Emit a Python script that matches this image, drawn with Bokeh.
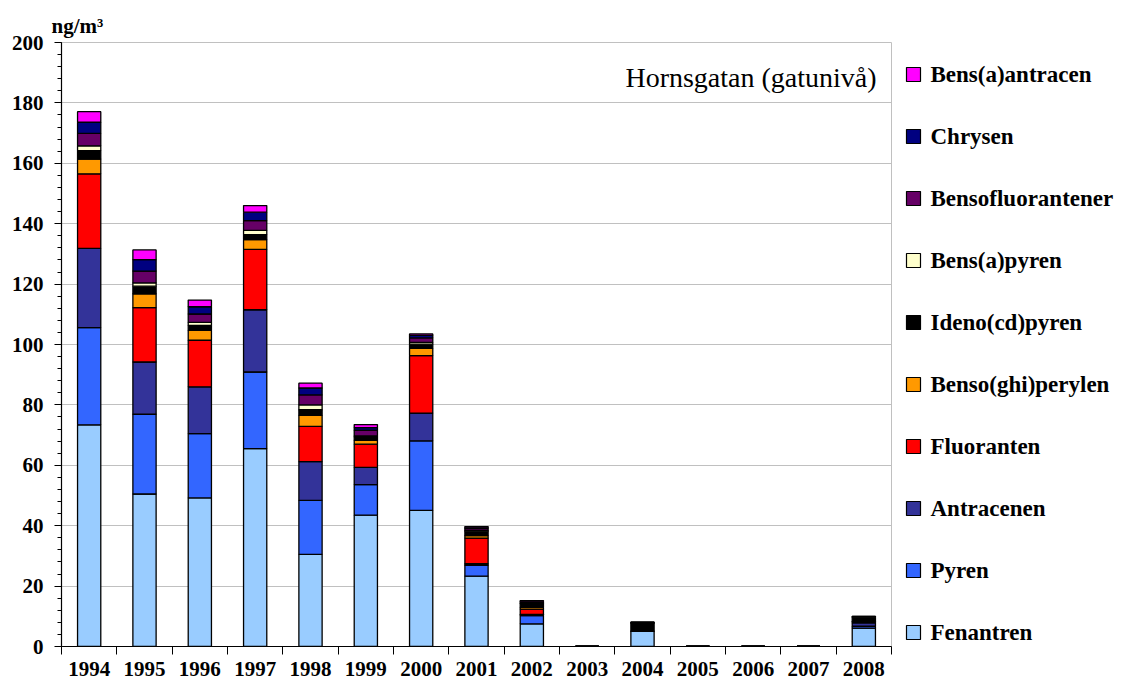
from bokeh.plotting import figure
from bokeh.layouts import row
from bokeh.models import ColumnDataSource, FixedTicker, Label, Range1d, Title
from bokeh.core.properties import value
from bokeh.embed import file_html
from bokeh.resources import INLINE

years = ["1994", "1995", "1996", "1997", "1998", "1999", "2000", "2001",
         "2002", "2003", "2004", "2005", "2006", "2007", "2008"]

fenantren = [73.4, 50.5, 49.2, 65.5, 30.5, 43.5, 45.1, 23.3, 7.5, 0, 5.0, 0, 0, 0, 6.1]
pyren = [32.2, 26.4, 21.3, 25.4, 17.9, 10.1, 23.0, 3.6, 2.7, 0, 0, 0, 0, 0, 0.6]
antracenen = [26.2, 17.3, 15.5, 20.6, 12.8, 5.7, 9.2, 0.5, 0.4, 0, 0, 0, 0, 0, 1.1]
fluoranten = [24.7, 18.0, 15.4, 20.0, 11.7, 7.7, 19.0, 8.5, 1.8, 0, 0, 0, 0, 0, 0.4]
benso_ghi_perylen = [4.9, 4.6, 3.3, 3.2, 3.6, 1.3, 2.4, 0.8, 0.6, 0, 0.1, 0, 0, 0, 0.1]
ideno_cd_pyren = [2.8, 2.5, 1.6, 1.7, 1.9, 1.1, 1.4, 1.5, 1.2, 0, 2.6, 0, 0, 0, 1.4]
bens_a_pyren = [1.6, 1.1, 1.0, 1.4, 1.6, 0.3, 0.6, 0.2, 0.1, 0, 0.1, 0, 0, 0, 0.1]
bensofluorantener = [4.1, 3.9, 2.8, 3.2, 3.3, 1.9, 1.5, 0.6, 0.4, 0, 0.2, 0, 0, 0, 0.1]
chrysen = [3.7, 3.8, 2.4, 2.8, 2.3, 0.9, 0.8, 0.5, 0.3, 0, 0.1, 0, 0, 0, 0.1]
bens_a_antracen = [3.5, 3.2, 2.2, 2.2, 1.6, 1.0, 0.5, 0.2, 0.2, 0, 0, 0, 0, 0, 0.0]

series_names = ["Fenantren", "Pyren", "Antracenen", "Fluoranten", "Benso(ghi)perylen",
                "Ideno(cd)pyren", "Bens(a)pyren", "Bensofluorantener", "Chrysen",
                "Bens(a)antracen"]
series_values = [fenantren, pyren, antracenen, fluoranten, benso_ghi_perylen,
                 ideno_cd_pyren, bens_a_pyren, bensofluorantener, chrysen, bens_a_antracen]
colors = ["#99CCFF", "#3366FF", "#333399", "#FF0000", "#FF9900",
          "#000000", "#FFFFCC", "#660066", "#000080", "#FF00FF"]

keys = ["s%d" % i for i in range(len(series_names))]
data = {"x": list(range(len(years)))}
for k, v in zip(keys, series_values):
    data[k] = v
source = ColumnDataSource(data)

SERIF = "Liberation Serif"
H = 681
TOP, BOTTOM = 42, 35

p = figure(width=893, height=H, output_backend="svg", toolbar_location=None,
           x_range=Range1d(-0.5, len(years) - 0.5), y_range=Range1d(0, 200),
           min_border_left=61, min_border_right=2, min_border_top=TOP, min_border_bottom=BOTTOM)
p.background_fill_color = "white"
p.border_fill_color = "white"
p.outline_line_color = "#c0c0c0"

p.title = Title(text="ng/m³", align="left", offset=-10, text_font=SERIF,
                text_font_style="bold", text_font_size="21px", text_color="black",
                standoff=9)

renderers = p.vbar_stack(keys, x="x", width=0.42, color=colors, line_color="black",
                         line_width=1.3, source=source)

# axes
p.xaxis.ticker = FixedTicker(ticks=list(range(len(years))),
                             minor_ticks=[i - 0.5 for i in range(len(years) + 1)])
p.xaxis.major_label_overrides = {i: y for i, y in enumerate(years)}
p.xaxis.major_tick_out = 0
p.xaxis.major_tick_in = 0
p.xaxis.minor_tick_out = 8
p.xaxis.minor_tick_in = 0
p.xaxis.major_label_standoff = 7

p.yaxis.ticker = FixedTicker(ticks=list(range(0, 201, 20)), minor_ticks=list(range(0, 201, 4)))
p.yaxis.major_tick_out = 7
p.yaxis.major_tick_in = 0
p.yaxis.minor_tick_out = 4
p.yaxis.minor_tick_in = 0
p.yaxis.major_label_standoff = 11

for ax in (p.xaxis, p.yaxis):
    ax.axis_line_color = "black"
    ax.axis_line_width = 1.2
    ax.major_tick_line_color = "black"
    ax.minor_tick_line_color = "black"
    ax.major_label_text_font = SERIF
    ax.major_label_text_font_style = "bold"
    ax.major_label_text_font_size = "21px"
    ax.major_label_text_color = "black"

p.xgrid.grid_line_color = None
p.ygrid.grid_line_color = "#c0c0c0"
p.ygrid.grid_line_width = 1

title = Label(x=14.23, y=188.4, text="Hornsgatan (gatunivå)", text_font=SERIF,
              text_font_size="28px", text_align="right", text_baseline="middle",
              text_color="black")
p.add_layout(title)

# legend panel (top entry = top of the stack); its frame is aligned with the
# main frame, so its y range is set so that one unit equals one pixel
LW = 1115 - 893
leg = figure(width=LW, height=H, output_backend="svg", toolbar_location=None,
             x_range=Range1d(0, LW), y_range=Range1d(H - BOTTOM, TOP),
             x_axis_type=None, y_axis_type=None,
             min_border_left=0, min_border_right=0, min_border_top=TOP, min_border_bottom=BOTTOM)
leg.grid.grid_line_color = None
leg.outline_line_color = None
leg.background_fill_color = "white"
leg.border_fill_color = "white"

n = len(series_names)
leg_src = ColumnDataSource(dict(
    name=series_names[::-1],
    color=colors[::-1],
    y=[74 + 62 * i for i in range(n)],
    xs=[20] * n,
    xt=[37] * n,
))
leg.scatter(x="xs", y="y", marker="square", size=14, fill_color="color",
            line_color="black", line_width=1.2, source=leg_src)
leg.text(x="xt", y="y", text="name", text_font=value(SERIF), text_font_style="bold",
         text_font_size="23px", text_baseline="middle", text_align="left",
         text_color="black", source=leg_src)

layout = row(p, leg, spacing=0)
open("out.html", "w").write(file_html(layout, INLINE))
